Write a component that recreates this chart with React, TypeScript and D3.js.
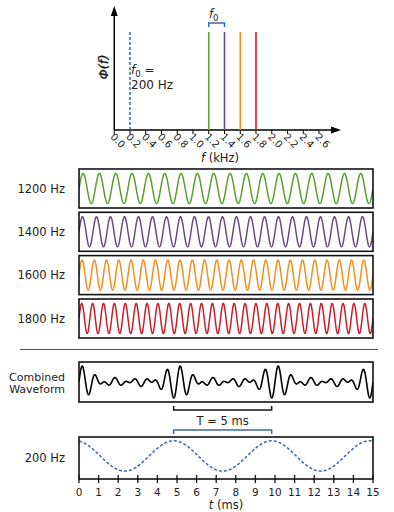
import React from "react";
import * as d3 from "d3";

const toneFreqs = [1200, 1400, 1600, 1800];
const toneLabels = ["1200 Hz", "1400 Hz", "1600 Hz", "1800 Hz"];
const toneColors = ["#5aa02c", "#6a4a87", "#f0901f", "#c8202b"];
const fundamentalHz = 200;
const fundamentalPeakMs = 4.83;
const specTicks = ["0.0", "0.2", "0.4", "0.6", "0.8", "1.0", "1.2", "1.4", "1.6", "1.8", "2.0", "2.2", "2.4", "2.6"];
const timeTicks = [0, 1, 2, 3, 4, 5, 6, 7, 8, 9, 10, 11, 12, 13, 14, 15];
const periodBracketMs = [4.83, 9.83];

const FONT = "DejaVu Sans, Verdana, sans-serif";
const BLUE = "#3b6aa6";

export default function App() {
  const W = 394, H = 512;
  // spectrum
  const xF = d3.scaleLinear().domain([0, 2.6]).range([114.25, 319]);
  const yF = d3.scaleLinear().domain([0, 1]).range([130, 32]);
  // time
  const xT = d3.scaleLinear().domain([0, 15]).range([79, 373]);
  const tSamples = d3.range(0, 15.0001, 0.005);

  const panelTops = [169, 212.3, 255.6, 299];
  const panelH = 39;
  const combTop = 362, combH = 40;
  const fundTop = 437, fundH = 42;

  const sineLine = (f: number, y: d3.ScaleLinear<number, number>) =>
    d3.line<number>().x((t) => xT(t)).y((t) => y(Math.sin(2 * Math.PI * f * t / 1000)))(tSamples) || "";

  const yComb = d3.scaleLinear().domain([-4.9, 4.9]).range([combTop + combH, combTop]);
  const combPath = d3.line<number>().x((t) => xT(t)).y((t) =>
    yComb(d3.sum(toneFreqs, (f) => Math.sin(2 * Math.PI * f * t / 1000)))
  )(tSamples) || "";

  const yFund = d3.scaleLinear().domain([-1.52, 1.25]).range([fundTop + fundH, fundTop]);
  const fundPath = d3.line<number>().x((t) => xT(t)).y((t) =>
    yFund(Math.cos(2 * Math.PI * fundamentalHz * (t - fundamentalPeakMs) / 1000))
  )(tSamples) || "";

  return (
    <svg width={W} height={H} style={{ position: "absolute", left: 0, top: 0, background: "#fff" }} fontFamily={FONT}>
      <defs>
        <clipPath id="clipWave">
          <rect x={xT(0)} y={0} width={xT(15) - xT(0)} height={H} />
        </clipPath>
      </defs>
      {/* ---------- Spectrum ---------- */}
      <line x1={xF(0)} y1={130} x2={xF(0)} y2={14} stroke="#000" strokeWidth={1.5} />
      <path d={`M${xF(0)},6 L${xF(0) - 3.5},16 L${xF(0) + 3.5},16 Z`} fill="#000" />
      <line x1={xF(0)} y1={130} x2={332} y2={130} stroke="#000" strokeWidth={1.5} />
      <path d={`M341,130 L331,126.5 L331,133.5 Z`} fill="#000" />
      {specTicks.map((s) => {
        const x = xF(+s);
        return (
          <g key={s}>
            <line x1={x} y1={130} x2={x} y2={134} stroke="#000" strokeWidth={1} />
            <text transform={`translate(${x - 2},${135}) rotate(45)`} fontSize={10} fill="#222" dy="0.35em">{s}</text>
          </g>
        );
      })}
      <text x={220} y={162} fontSize={11.5} textAnchor="middle" fill="#222">
        <tspan fontStyle="italic">f</tspan> (kHz)
      </text>
      <text transform={`translate(108,67) rotate(-90)`} fontSize={13} textAnchor="middle" fontStyle="italic" fill="#111" stroke="#111" strokeWidth={0.3}>Φ(f)</text>
      <line x1={xF(0.2)} y1={yF(0)} x2={xF(0.2)} y2={yF(1)} stroke={BLUE} strokeWidth={1.5} strokeDasharray="3,2" />
      {toneFreqs.map((f, i) => (
        <line key={f} x1={xF(f / 1000)} y1={yF(0)} x2={xF(f / 1000)} y2={yF(1)} stroke={toneColors[i]} strokeWidth={1.6} />
      ))}
      <text x={131} y={74} fontSize={12} fill="#222">
        <tspan fontStyle="italic">f</tspan><tspan fontSize={8.5} dy={3}>0</tspan><tspan dy={-3}> =</tspan>
      </text>
      <text x={131} y={89} fontSize={12} fill="#222">200 Hz</text>
      <path d={`M${xF(1.2)},27 L${xF(1.2)},23 L${xF(1.4)},23 L${xF(1.4)},27`} fill="none" stroke={BLUE} strokeWidth={1.5} />
      <text x={(xF(1.2) + xF(1.4)) / 2 - 3} y={18} fontSize={11.5} textAnchor="middle" fill="#222">
        <tspan fontStyle="italic">f</tspan><tspan fontSize={8.5} dy={3}>0</tspan>
      </text>

      {/* ---------- tone panels ---------- */}
      {toneFreqs.map((f, i) => {
        const top = panelTops[i];
        const y = d3.scaleLinear().domain([-1.3, 1.3]).range([top + panelH, top]);
        return (
          <g key={f}>
            <path d={sineLine(f, y)} fill="none" stroke={toneColors[i]} strokeWidth={1.5} clipPath="url(#clipWave)" />
            <rect x={xT(0)} y={top} width={xT(15) - xT(0)} height={panelH} fill="none" stroke="#111" strokeWidth={1.6} />
            <text x={65} y={top + panelH / 2 + 4} fontSize={11.5} textAnchor="end" fill="#222">{toneLabels[i]}</text>
          </g>
        );
      })}

      <line x1={20} y1={349.5} x2={378} y2={349.5} stroke="#555" strokeWidth={1.2} />

      {/* ---------- combined ---------- */}
      <path d={combPath} fill="none" stroke="#000" strokeWidth={1.6} clipPath="url(#clipWave)" />
      <rect x={xT(0)} y={combTop} width={xT(15) - xT(0)} height={combH} fill="none" stroke="#111" strokeWidth={1.6} />
      <text x={65} y={380.5} fontSize={11} textAnchor="end" fill="#222">Combined</text>
      <text x={65} y={393} fontSize={11} textAnchor="end" fill="#222">Waveform</text>

      {/* brackets */}
      <path d={`M${xT(periodBracketMs[0])},406 L${xT(periodBracketMs[0])},410 L${xT(periodBracketMs[1])},410 L${xT(periodBracketMs[1])},406`} fill="none" stroke="#111" strokeWidth={1.5} />
      <text x={(xT(periodBracketMs[0]) + xT(periodBracketMs[1])) / 2} y={425} fontSize={11.5} textAnchor="middle" fill="#222">T = 5 ms</text>
      <path d={`M${xT(periodBracketMs[0])},434 L${xT(periodBracketMs[0])},430 L${xT(periodBracketMs[1])},430 L${xT(periodBracketMs[1])},434`} fill="none" stroke={BLUE} strokeWidth={1.5} />

      {/* ---------- fundamental ---------- */}
      <path d={fundPath} fill="none" stroke={BLUE} strokeWidth={1.5} strokeDasharray="3,2" clipPath="url(#clipWave)" />
      <rect x={xT(0)} y={fundTop} width={xT(15) - xT(0)} height={fundH} fill="none" stroke="#111" strokeWidth={1.6} />
      <text x={65} y={fundTop + fundH / 2 + 4} fontSize={11.5} textAnchor="end" fill="#222">200 Hz</text>
      {timeTicks.map((t) => (
        <g key={t}>
          <line x1={xT(t)} y1={fundTop + fundH - 4} x2={xT(t)} y2={fundTop + fundH + 4} stroke="#111" strokeWidth={1.3} />
          <text x={xT(t)} y={495.5} fontSize={10.5} textAnchor="middle" fill="#222">{t}</text>
        </g>
      ))}
      <text x={xT(7.5)} y={509} fontSize={11.5} textAnchor="middle" fill="#222">
        <tspan fontStyle="italic">t</tspan>{"  (ms)"}
      </text>
    </svg>
  );
}
